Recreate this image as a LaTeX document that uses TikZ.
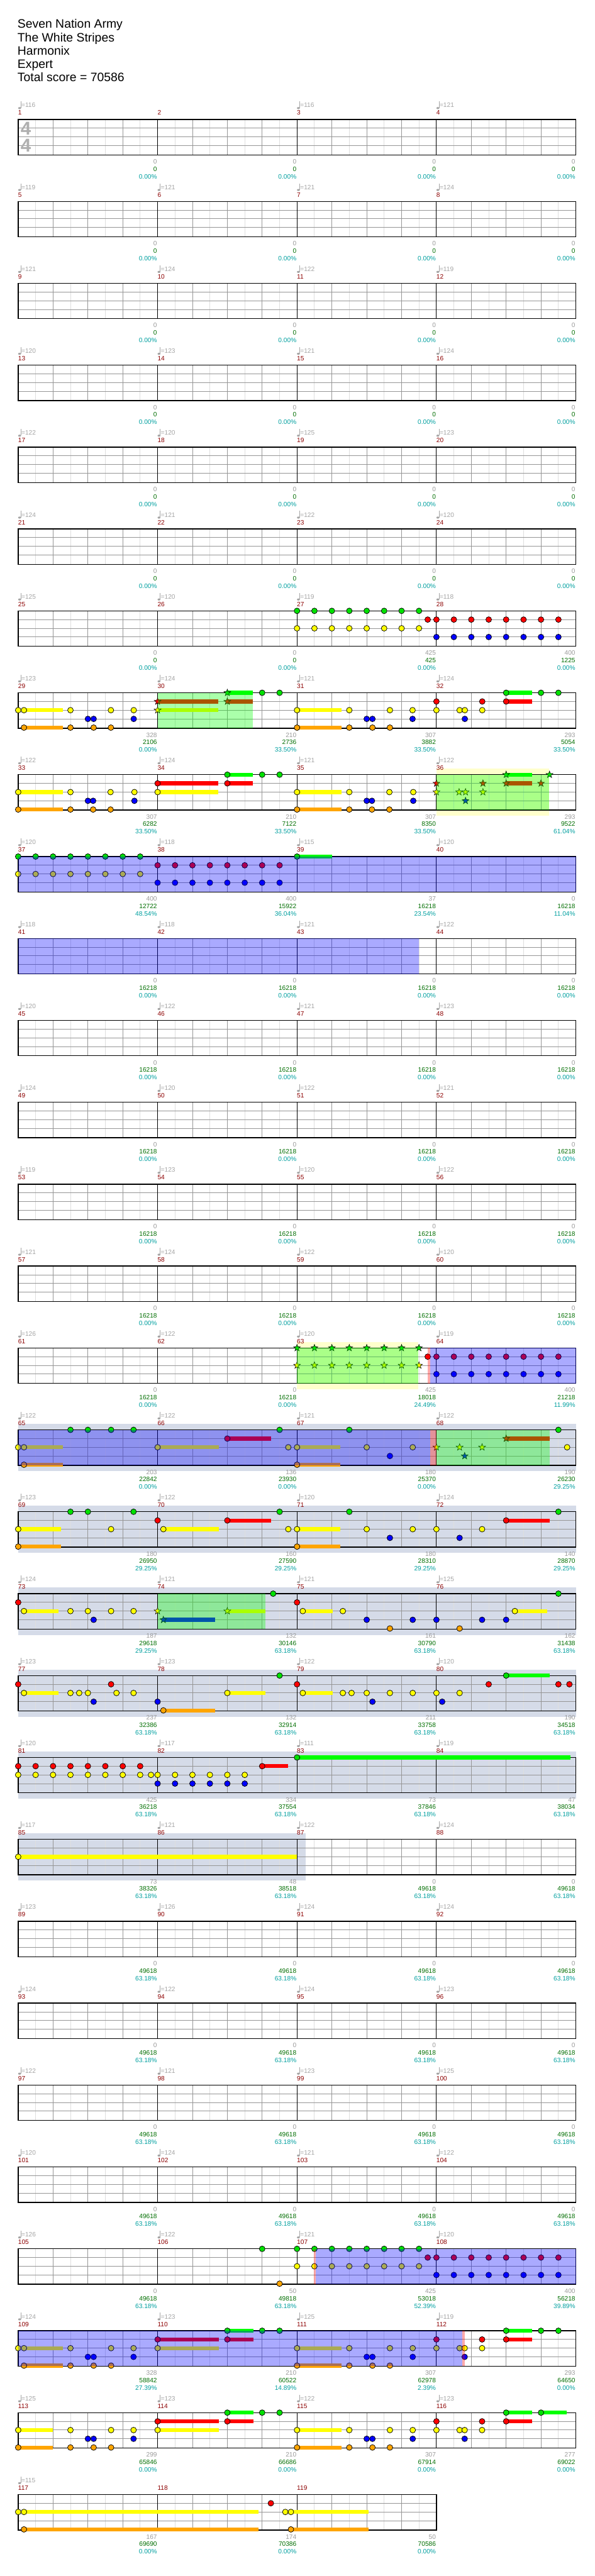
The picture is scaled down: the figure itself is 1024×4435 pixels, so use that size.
\documentclass[tikz,border=0pt]{standalone}
\usepackage{fontspec}
\setmainfont{Liberation Sans}
\definecolor{nG}{RGB}{0,225,0}
\definecolor{nR}{RGB}{255,0,0}
\definecolor{nY}{RGB}{255,255,0}
\definecolor{nB}{RGB}{0,0,255}
\definecolor{nO}{RGB}{255,165,0}
\definecolor{bG}{RGB}{0,255,0}
\definecolor{bR}{RGB}{255,0,0}
\definecolor{bY}{RGB}{255,255,0}
\definecolor{bB}{RGB}{0,0,255}
\definecolor{bO}{RGB}{255,165,0}
\definecolor{band}{RGB}{213,219,232}
\definecolor{pale}{RGB}{255,255,204}
\definecolor{mnum}{RGB}{140,0,0}
\definecolor{tgray}{RGB}{165,165,165}
\definecolor{sgray}{RGB}{155,155,155}
\definecolor{sgreen}{RGB}{0,110,0}
\definecolor{steal}{RGB}{0,160,160}
\definecolor{gline}{RGB}{150,150,150}
\definecolor{lline}{RGB}{222,222,222}
\definecolor{sigc}{RGB}{175,175,175}
\def\yG{0}\def\yR{15}\def\yY{30}\def\yB{45}\def\yO{60}
\tikzset{
 txbase/.style={inner sep=0pt,outer sep=0pt,font=\fontsize{11}{13}\selectfont},
 txtempo/.style={txbase,text=tgray,anchor=base west},
 txmeas/.style={txbase,text=mnum,anchor=base west},
 txscore/.style={txbase,text=sgray,anchor=base east},
 txcum/.style={txbase,text=sgreen,anchor=base east},
 txpct/.style={txbase,text=steal,anchor=base east},
 txtitle/.style={inner sep=0pt,anchor=base west,font=\fontsize{21}{25}\selectfont},
 txsig/.style={inner sep=0pt,anchor=base west,text=sigc,font=\fontsize{32}{36}\selectfont\bfseries},
 rowat/.style={shift={(0,{205.7+141*#1})}},
}
\newcommand\nte[2]{\edef\ly{\csname y#1\endcsname}\filldraw[fill=n#1,draw=black,line width=0.8pt] ({31.3+30*(#2)},\ly) circle[radius=4.9pt];}
\newcommand\nst[2]{\edef\ly{\csname y#1\endcsname}\filldraw[fill=n#1,draw=black,line width=0.6pt,shift={({31.3+30*(#2)},\ly)}] (90:6.2pt)--(126:2.5pt)--(162:6.2pt)--(198:2.5pt)--(234:6.2pt)--(270:2.5pt)--(306:6.2pt)--(342:2.5pt)--(18:6.2pt)--(54:2.5pt)--cycle;}
\newcommand\sus[3]{\edef\ly{\csname y#1\endcsname}\fill[b#1] ({31.3+30*(#2)},{\ly-3.4}) rectangle ({31.3+30*(#3)},{\ly+3.4});}
\newcommand\odov[2]{\fill[blue,fill opacity=0.333] ({31.3+30*(#1)},0) rectangle ({31.3+30*(#2)},61);}
\newcommand\spov[2]{\fill[green,fill opacity=0.333] ({31.3+30*(#1)},0) rectangle ({31.3+30*(#2)},61);}
\newcommand\pkov[2]{\fill[red,fill opacity=0.333] ({31.3+30*(#1)},0) rectangle ({31.3+30*(#2)},61);}
\newcommand\palebg[2]{\fill[pale] ({31.3+30*(#1)},-10.5) rectangle ({31.3+30*(#2)},71);}
\newcommand\bandbg[2]{\fill[band] ({31.3+30*(#1)},-10.5) rectangle ({31.3+30*(#2)},71);}
\newcommand\stf[1]{%
 \pgfmathtruncatemacro\nn{8*#1-1}%
 \pgfmathsetmacro\xe{31.3+240*#1}%
 \foreach \i in {1,3,...,\nn}{\draw[lline,line width=1pt] ({31.3+30*\i},0)--({31.3+30*\i},61);}%
 \foreach \i in {2,4,...,\nn}{\pgfmathtruncatemacro\mA{mod(\i,8)}\ifnum\mA=0\relax\else\draw[gline,line width=1pt] ({31.3+30*\i},0)--({31.3+30*\i},61);\fi}%
 \foreach \yy in {15,30,45}{\draw[gline,line width=1pt] (31.3,\yy)--(\xe,\yy);}%
 \pgfmathtruncatemacro\nm{#1-1}%
 \foreach \i in {1,...,\nm}{\draw[black,line width=1pt] ({31.3+240*\i},0)--({31.3+240*\i},61);}%
 \draw[black,line width=1.5pt] (31.3,0) rectangle (\xe,61);}
\newcommand\rowtxt[2]{%
 \foreach \tp/\gs/\cs/\ps [count=\k from 0] in {#2}{%
  \pgfmathsetmacro\xa{31.3+240*\k}%
  \pgfmathsetmacro\xb{30.3+240*(\k+1)}%
  \pgfmathtruncatemacro\mn{#1+\k}%
  \ifnum\tp>0
   \fill[tgray] ({\xa+2.4},-19.6) ellipse[x radius=2.5pt,y radius=1.8pt];
   \draw[tgray,line width=0.9pt] ({\xa+4.5},-20.0)--({\xa+4.5},-31);
   \node[txtempo] (tp\mn) at ({\xa+5.6},-20.6) {=\tp};
  \fi
  \node[txmeas] (mn\mn) at (\xa,-7.6) {\mn};
  \node[txscore] (sc\mn) at (\xb,76.4) {\gs};
  \node[txcum] (cu\mn) at (\xb,89) {\cs};
  \node[txpct] (pc\mn) at (\xb,102) {\ps};
 }}
\newcommand\emptyrow[3]{\begin{scope}[rowat=#1]\stf{4}\rowtxt{#2}{#3}\end{scope}}
\begin{document}
\begin{tikzpicture}[x=1pt,y=-1pt]
\useasboundingbox (0,0) rectangle (1024,4435);
\fill[white] (0,0) rectangle (1024,4435);
% title
\node[txtitle] (ti1) at (30,48.5) {Seven Nation Army};
\node[txtitle] (ti2) at (30,71.5) {The White Stripes};
\node[txtitle] (ti3) at (30,94.5) {Harmonix};
\node[txtitle] (ti4) at (30,117.5) {Expert};
\node[txtitle] (ti5) at (30,140.5) {Total score = 70586};
% row 0
\begin{scope}[rowat=0]
\stf{4}
\node[txsig] (ts1) at (35.5,26.3) {4};
\node[txsig] (ts2) at (35.5,56.3) {4};
\rowtxt{1}{116/0/0/0.00\%,0/0/0/0.00\%,116/0/0/0.00\%,121/0/0/0.00\%}
\end{scope}
\emptyrow{1}{5}{119/0/0/0.00\%,121/0/0/0.00\%,121/0/0/0.00\%,124/0/0/0.00\%}
\emptyrow{2}{9}{121/0/0/0.00\%,124/0/0/0.00\%,122/0/0/0.00\%,119/0/0/0.00\%}
\emptyrow{3}{13}{120/0/0/0.00\%,123/0/0/0.00\%,121/0/0/0.00\%,124/0/0/0.00\%}
\emptyrow{4}{17}{122/0/0/0.00\%,120/0/0/0.00\%,125/0/0/0.00\%,123/0/0/0.00\%}
\emptyrow{5}{21}{124/0/0/0.00\%,121/0/0/0.00\%,122/0/0/0.00\%,120/0/0/0.00\%}
% row 6
\begin{scope}[rowat=6]
\stf{4}
\foreach \e in {16,...,23}{\nte{G}{\e}\nte{Y}{\e}}
\nte{R}{23.5}
\foreach \e in {24,...,31}{\nte{R}{\e}\nte{B}{\e}}
\rowtxt{25}{125/0/0/0.00\%,120/0/0/0.00\%,119/425/425/0.00\%,118/400/1225/0.00\%}
\end{scope}
% row 7
\begin{scope}[rowat=7]
\stf{4}
\sus{Y}{0.33}{2.55}\sus{O}{0.33}{2.55}
\sus{R}{8}{11.48}\sus{Y}{8}{11.48}\sus{G}{12}{13.48}\sus{R}{12}{13.48}
\sus{Y}{16}{18.56}\sus{O}{16}{18.56}
\sus{R}{28}{29.48}\sus{G}{28}{29.48}
\foreach \e in {0,0.33,3,5.32,6.63,16,19,21.33,22.63,24,25.33,25.63,26.63}{\nte{Y}{\e}}
\foreach \e in {4,4.33,6.63,20,20.33,22.63,25.63}{\nte{B}{\e}}
\foreach \e in {0.33,3,4.33,5.32,16,19,20.33,21.33}{\nte{O}{\e}}
\foreach \e in {14,15,28,30,31}{\nte{G}{\e}}
\foreach \e in {24,26.63,28}{\nte{R}{\e}}
\nst{R}{8}\nst{Y}{8}\nst{G}{12}\nst{R}{12}
\spov{8}{13.48}
\rowtxt{29}{123/328/2106/0.00\%,124/210/2736/33.50\%,121/307/3882/33.50\%,124/293/5054/33.50\%}
\end{scope}
% row 8
\begin{scope}[rowat=8]
\palebg{24}{30.48}
\stf{4}
\sus{Y}{0}{2.55}\sus{O}{0}{2.55}
\sus{R}{8}{11.48}\sus{Y}{8}{11.48}\sus{R}{12}{13.48}\sus{G}{12}{13.48}
\sus{Y}{16}{18.56}\sus{O}{16}{18.56}
\sus{R}{28}{29.48}\sus{G}{28}{29.48}
\foreach \e in {0,3,5.3,6.67,8,16,19,21.3,22.67}{\nte{Y}{\e}}
\foreach \e in {4,4.3,6.67,20,20.3,22.67}{\nte{B}{\e}}
\foreach \e in {0,3,4.3,5.3,16,19,20.3,21.3}{\nte{O}{\e}}
\foreach \e in {8,12}{\nte{R}{\e}}
\foreach \e in {12,14,15}{\nte{G}{\e}}
\foreach \e in {24,26.67,28,30}{\nst{R}{\e}}
\foreach \e in {24,25.3,25.67,26.67}{\nst{Y}{\e}}
\nst{B}{25.67}
\nst{G}{28}\nst{G}{30.49}
\spov{24}{30.48}
\rowtxt{33}{122/307/6282/33.50\%,124/210/7122/33.50\%,121/307/8350/33.50\%,122/293/9522/61.04\%}
\end{scope}
% row 9
\begin{scope}[rowat=9]
\stf{4}
\sus{G}{16}{18}
\foreach \e in {0,...,7}{\nte{G}{\e}\nte{Y}{\e}}
\foreach \e in {8,...,15}{\nte{R}{\e}\nte{B}{\e}}
\nte{G}{16}
\odov{0}{32}
\rowtxt{37}{120/400/12722/48.54\%,118/400/15922/36.04\%,115/37/16218/23.54\%,120/0/16218/11.04\%}
\end{scope}
% row 10
\begin{scope}[rowat=10]
\stf{4}
\odov{0}{23.01}
\rowtxt{41}{118/0/16218/0.00\%,118/0/16218/0.00\%,121/0/16218/0.00\%,122/0/16218/0.00\%}
\end{scope}
\emptyrow{11}{45}{120/0/16218/0.00\%,122/0/16218/0.00\%,121/0/16218/0.00\%,123/0/16218/0.00\%}
\emptyrow{12}{49}{124/0/16218/0.00\%,120/0/16218/0.00\%,122/0/16218/0.00\%,121/0/16218/0.00\%}
\emptyrow{13}{53}{119/0/16218/0.00\%,123/0/16218/0.00\%,120/0/16218/0.00\%,122/0/16218/0.00\%}
\emptyrow{14}{57}{121/0/16218/0.00\%,124/0/16218/0.00\%,122/0/16218/0.00\%,120/0/16218/0.00\%}
% row 15
\begin{scope}[rowat=15]
\palebg{16}{22.97}
\stf{4}
\foreach \e in {16,...,23}{\nst{G}{\e}\nst{Y}{\e}}
\nte{R}{23.5}
\foreach \e in {24,...,31}{\nte{R}{\e}\nte{B}{\e}}
\spov{16}{22.97}
\pkov{23.5}{23.66}
\odov{23.66}{32}
\rowtxt{61}{126/0/16218/0.00\%,122/0/16218/0.00\%,120/425/18018/24.49\%,119/400/21218/11.99\%}
\end{scope}
% row 16
\begin{scope}[rowat=16]
\bandbg{0}{32}
\stf{4}
\sus{Y}{0.33}{2.55}\sus{O}{0.33}{2.55}\sus{Y}{8}{11.5}\sus{R}{12}{14.5}
\sus{Y}{16}{18.5}\sus{O}{16}{18.5}\sus{R}{28}{30.5}
\foreach \e in {3,4,5.33,6.62,15,19,31}{\nte{G}{\e}}
\foreach \e in {0,0.33,8,15.5,16,20,22.64,31.5}{\nte{Y}{\e}}
\nte{R}{12}
\nte{B}{21.33}
\foreach \e in {0.33,16}{\nte{O}{\e}}
\foreach \e in {24,25.33,26.62}{\nst{Y}{\e}}
\nst{B}{25.62}
\nst{R}{28}
\odov{0}{23.66}
\pkov{23.66}{24}
\spov{24}{30.5}
\rowtxt{65}{122/203/22842/0.00\%,122/136/23930/0.00\%,121/180/25370/0.00\%,122/190/26230/29.25\%}
\end{scope}
% row 17
\begin{scope}[rowat=17]
\bandbg{0}{32}
\stf{4}
\sus{Y}{0}{2.46}\sus{O}{0}{2.46}\sus{Y}{8.33}{11.5}\sus{R}{12}{14.5}
\sus{Y}{16}{18.5}\sus{O}{16}{18.5}\sus{R}{28}{30.5}
\foreach \e in {3,4,6.62,15,19,31}{\nte{G}{\e}}
\foreach \e in {0,5.33,8.33,15.5,16,20,22.64,24,26.62}{\nte{Y}{\e}}
\foreach \e in {8,12,28}{\nte{R}{\e}}
\foreach \e in {21.33,25.33}{\nte{B}{\e}}
\foreach \e in {0,16}{\nte{O}{\e}}
\rowtxt{69}{123/180/26950/29.25\%,122/160/27590/29.25\%,120/180/28310/29.25\%,124/140/28870/29.25\%}
\end{scope}
% row 18
\begin{scope}[rowat=18]
\bandbg{0}{32}
\stf{4}
\sus{Y}{0.33}{2.33}\sus{Y}{12}{14.2}\sus{B}{8.33}{11.3}\sus{Y}{16.33}{18.05}\sus{Y}{28.5}{30.37}
\foreach \e in {0,16}{\nte{R}{\e}}
\foreach \e in {0.33,3,4,5.33,6.62,16.33,18.63,28.5}{\nte{Y}{\e}}
\foreach \e in {4.33,20,22.64,24,26.62,28}{\nte{B}{\e}}
\foreach \e in {21.33,25.33}{\nte{O}{\e}}
\foreach \e in {14.63,31}{\nte{G}{\e}}
\nst{Y}{8}\nst{Y}{12}\nst{B}{8.33}
\spov{8}{14.2}
\rowtxt{73}{124/187/29618/29.25\%,121/132/30146/63.18\%,121/161/30790/63.18\%,125/162/31438/63.18\%}
\end{scope}
% row 19
\begin{scope}[rowat=19]
\bandbg{0}{32}
\stf{4}
\sus{Y}{0.33}{2.33}\sus{O}{8.33}{11.3}\sus{Y}{12}{14.2}\sus{Y}{16.33}{18.05}\sus{G}{28}{30.5}
\foreach \e in {0,5.33,16,27,31,31.63}{\nte{R}{\e}}
\foreach \e in {0.33,3,3.5,4,5.64,6.62,12,16.33,18.63,19.13,20,21.33,22.64,24,25.33}{\nte{Y}{\e}}
\foreach \e in {4.33,8,20.33,24.33}{\nte{B}{\e}}
\nte{O}{8.33}
\foreach \e in {15,28}{\nte{G}{\e}}
\rowtxt{77}{123/237/32386/63.18\%,123/132/32914/63.18\%,122/211/33758/63.18\%,120/190/34518/63.18\%}
\end{scope}
% row 20
\begin{scope}[rowat=20]
\bandbg{0}{32}
\stf{4}
\sus{R}{14}{15.5}\sus{G}{16}{31.7}
\foreach \e in {0,...,7}{\nte{R}{\e}\nte{Y}{\e}}
\nte{R}{14}
\nte{Y}{7.62}
\foreach \e in {8,...,13}{\nte{Y}{\e}\nte{B}{\e}}
\nte{G}{16}
\rowtxt{81}{120/425/36218/63.18\%,117/334/37554/63.18\%,111/73/37846/63.18\%,119/47/38034/63.18\%}
\end{scope}
% row 21
\begin{scope}[rowat=21]
\bandbg{0}{16.48}
\stf{4}
\sus{Y}{0}{16}
\nte{Y}{0}
\rowtxt{85}{117/73/38326/63.18\%,121/48/38518/63.18\%,122/0/49618/63.18\%,124/0/49618/63.18\%}
\end{scope}
\emptyrow{22}{89}{123/0/49618/63.18\%,126/0/49618/63.18\%,124/0/49618/63.18\%,124/0/49618/63.18\%}
\emptyrow{23}{93}{124/0/49618/63.18\%,122/0/49618/63.18\%,124/0/49618/63.18\%,123/0/49618/63.18\%}
\emptyrow{24}{97}{122/0/49618/63.18\%,121/0/49618/63.18\%,123/0/49618/63.18\%,125/0/49618/63.18\%}
\emptyrow{25}{101}{120/0/49618/63.18\%,124/0/49618/63.18\%,121/0/49618/63.18\%,122/0/49618/63.18\%}
% row 26
\begin{scope}[rowat=26]
\stf{4}
\nte{G}{14}
\nte{O}{15}
\foreach \e in {16,...,23}{\nte{G}{\e}\nte{Y}{\e}}
\nte{R}{23.5}
\foreach \e in {24,...,31}{\nte{R}{\e}\nte{B}{\e}}
\pkov{16.98}{17.09}
\odov{17.09}{32}
\rowtxt{105}{126/0/49618/63.18\%,122/50/49818/63.18\%,121/425/53018/52.39\%,120/400/56218/39.89\%}
\end{scope}
% row 27
\begin{scope}[rowat=27]
\stf{4}
\sus{Y}{0.33}{2.55}\sus{O}{0.33}{2.55}\sus{R}{8}{11.5}\sus{Y}{8}{11.5}\sus{R}{12}{13.5}\sus{G}{12}{13.5}
\sus{Y}{16}{18.55}\sus{O}{16}{18.55}\sus{R}{28}{29.5}\sus{G}{28}{29.5}
\foreach \e in {0,0.33,3,5.33,6.62,8,16,19,21.33,22.64,24,25.33,25.62,26.62}{\nte{Y}{\e}}
\foreach \e in {4,4.33,6.62,20,20.33,22.64,25.62}{\nte{B}{\e}}
\foreach \e in {0.33,3,4.33,5.33,16,19,20.33,21.33}{\nte{O}{\e}}
\foreach \e in {8,12,24,26.62,28}{\nte{R}{\e}}
\foreach \e in {12,14,15,28,30,31}{\nte{G}{\e}}
\odov{0}{25.5}
\pkov{25.5}{25.62}
\rowtxt{109}{124/328/58842/27.39\%,123/210/60522/14.89\%,125/307/62978/2.39\%,119/293/64650/0.00\%}
\end{scope}
% row 28
\begin{scope}[rowat=28]
\stf{4}
\sus{Y}{0}{2}\sus{O}{0}{2}\sus{R}{8}{11.5}\sus{Y}{8}{11.5}\sus{R}{12}{13.5}\sus{G}{12}{13.5}
\sus{Y}{16}{18.55}\sus{O}{16}{18.55}\sus{R}{28}{29.5}\sus{G}{28}{29.5}\sus{G}{30}{31.47}
\foreach \e in {0,3,5.33,6.62,8,16,19,21.33,22.64,24,25.33,25.62,26.62}{\nte{Y}{\e}}
\foreach \e in {4,4.33,6.62,20,20.33,22.64,25.62}{\nte{B}{\e}}
\foreach \e in {0,3,4.33,5.33,16,19,20.33,21.33}{\nte{O}{\e}}
\foreach \e in {8,12,24,26.62,28}{\nte{R}{\e}}
\foreach \e in {12,14,15,28,30}{\nte{G}{\e}}
\rowtxt{113}{125/299/65846/0.00\%,123/210/66686/0.00\%,122/307/67914/0.00\%,123/277/69022/0.00\%}
\end{scope}
% row 29
\begin{scope}[rowat=29]
\stf{3}
\sus{Y}{0.33}{13.8}\sus{O}{0.33}{13.8}\sus{Y}{15.65}{20.1}\sus{O}{15.65}{20.1}
\foreach \e in {0,0.33,15.33,15.65}{\nte{Y}{\e}}
\foreach \e in {0.33,15.65}{\nte{O}{\e}}
\nte{R}{14.5}
\rowtxt{117}{115/167/69690/0.00\%,0/174/70386/0.00\%,0/50/70586/0.00\%}
\end{scope}
\end{tikzpicture}
\end{document}
